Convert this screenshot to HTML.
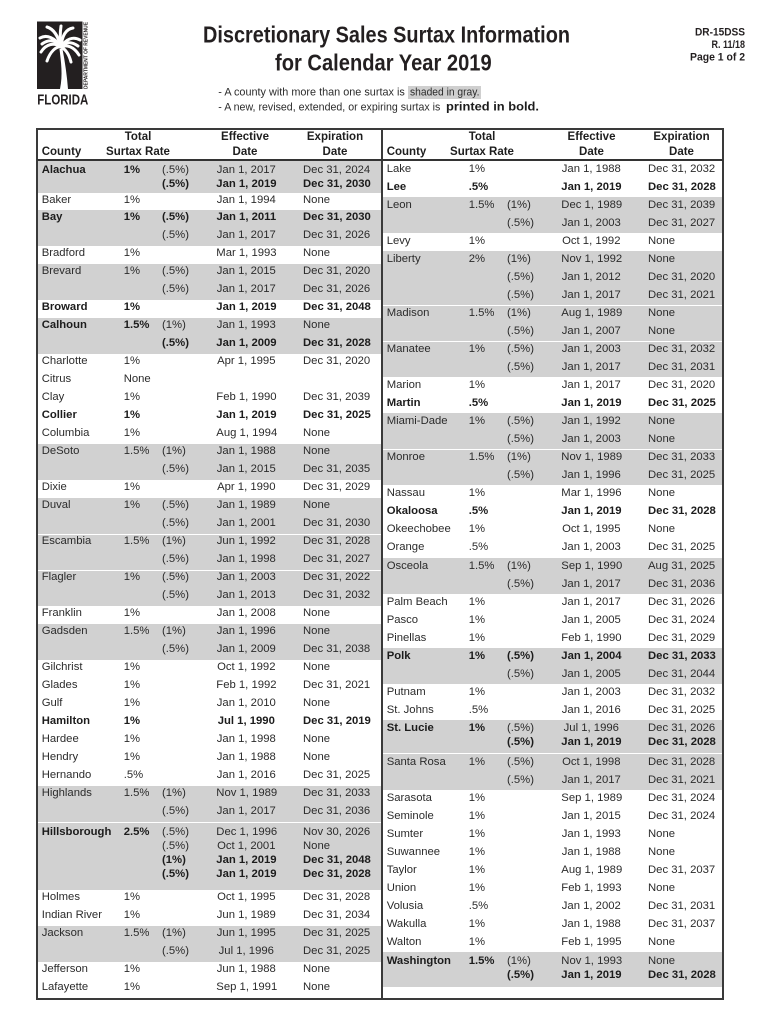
<!DOCTYPE html>
<html><head><meta charset="utf-8">
<style>
*{box-sizing:border-box}
body{margin:0;width:770px;height:1024px;position:relative;background:#fff;font-family:"Liberation Sans",Arial,sans-serif;color:#2b2b2b;overflow:hidden}
svg.top{position:absolute;left:0;top:0}
.frame{position:absolute;left:36px;top:128px;width:688px;height:872px;border:2px solid #3a3a3a}
.div{position:absolute;left:381px;top:129px;width:2px;height:870px;background:#3a3a3a}
.hline{position:absolute;left:37px;top:159px;width:686px;height:1.5px;background:#333}
.h{position:absolute;font-weight:bold;font-size:11.5px;line-height:14px;color:#1e1e1e;white-space:nowrap}
.hc{width:100px;text-align:center}
.col{position:absolute;top:160.5px;font-size:11.3px}
.L{left:38px;width:343px}
.R{left:383px;width:339px}
.L .r{height:17.99px;line-height:17.99px}
.R .r{height:18.05px;line-height:18.05px}
.r{position:relative}
.r span,.c span{position:absolute;top:-1px;white-space:nowrap}
.c{position:relative;height:14px;line-height:14px}
.c span{top:0}
.hb .c{height:14.2px;line-height:14.2px}
.a{left:3.7px}.b{left:85.7px}.s{left:124px}.e{left:178.3px;width:60px;text-align:center}.x{left:265px}
.g{background:#d1d1d1}
.sep{box-shadow:inset 0 1px 0 #fff}
.k{font-weight:bold;color:#1c1c1c}
</style></head><body>

<svg class="top" width="770" height="125" viewBox="0 0 770 125" xmlns="http://www.w3.org/2000/svg">
  <rect x="37" y="21.5" width="45.5" height="67.5" fill="#231f20"/>
  <g fill="none" stroke="#fff" stroke-width="3" stroke-linecap="round">
    <path d="M61,47 C55,38 47,34 40,38"/>
    <path d="M61,47 C54,42 46,44 41,52"/>
    <path d="M61,47 C56,46 50,52 47,61"/>
    <path d="M61,47 C58,36 54,29 47,27"/>
    <path d="M61,47 C62,36 66,29 73,28"/>
    <path d="M61,47 C66,39 73,36 80,40"/>
    <path d="M61,47 C67,44 74,47 79,55"/>
    <path d="M61,47 C65,49 69,54 71,62"/>
    <path d="M61,47 C60,40 60,33 61,26"/>
    <path d="M61,47 C57,41 50,38 42,44"/>
    <path d="M61,47 C65,42 71,41 78,46"/>
  </g>
  <path d="M59.5,49 C61,62 63,75 60,89 L68,89 C67,76 65,62 62.5,49 Z" fill="#fff"/>
  <text transform="translate(87.6,89) rotate(-90)" font-family="Liberation Sans, Arial, sans-serif" font-size="5.2" font-weight="bold" fill="#231f20" textLength="67" lengthAdjust="spacingAndGlyphs">DEPARTMENT OF REVENUE</text>
  <text x="37.3" y="104.5" font-family="Liberation Sans, Arial, sans-serif" font-size="15" font-weight="bold" fill="#231f20" textLength="51" lengthAdjust="spacingAndGlyphs">FLORIDA</text>

  <text x="203" y="42.3" font-family="Liberation Sans, Arial, sans-serif" font-size="23.5" font-weight="bold" fill="#231f20" textLength="367" lengthAdjust="spacingAndGlyphs">Discretionary Sales Surtax Information</text>
  <text x="275" y="70.5" font-family="Liberation Sans, Arial, sans-serif" font-size="23.5" font-weight="bold" fill="#231f20" textLength="216.7" lengthAdjust="spacingAndGlyphs">for Calendar Year 2019</text>

  <text x="695" y="35.5" font-family="Liberation Sans, Arial, sans-serif" font-size="11" font-weight="bold" fill="#231f20" textLength="50" lengthAdjust="spacingAndGlyphs">DR-15DSS</text>
  <text x="711.5" y="48" font-family="Liberation Sans, Arial, sans-serif" font-size="11" font-weight="bold" fill="#231f20" textLength="33.5" lengthAdjust="spacingAndGlyphs">R. 11/18</text>
  <text x="690" y="60.5" font-family="Liberation Sans, Arial, sans-serif" font-size="11" font-weight="bold" fill="#231f20" textLength="55" lengthAdjust="spacingAndGlyphs">Page 1 of 2</text>

  <rect x="408" y="86" width="73" height="13" fill="#cfcfcf"/>
  <text x="218.3" y="95.7" font-family="Liberation Sans, Arial, sans-serif" font-size="11" fill="#2b2b2b" textLength="186.5" lengthAdjust="spacingAndGlyphs">- A county with more than one surtax is</text>
  <text x="410" y="95.7" font-family="Liberation Sans, Arial, sans-serif" font-size="11" fill="#2b2b2b" textLength="69.5" lengthAdjust="spacingAndGlyphs">shaded in gray.</text>
  <text x="218.3" y="110.7" font-family="Liberation Sans, Arial, sans-serif" font-size="11" fill="#2b2b2b" textLength="222" lengthAdjust="spacingAndGlyphs">- A new, revised, extended, or expiring surtax is</text>
  <text x="446" y="110.7" font-family="Liberation Sans, Arial, sans-serif" font-size="11.8" font-weight="bold" fill="#1c1c1c" textLength="93" lengthAdjust="spacingAndGlyphs">printed in bold.</text>
</svg>

<div class="frame"></div>
<div class="div"></div>
<div class="hline"></div>

<!-- headers left -->
<div class="h" style="left:41.7px;top:145.3px">County</div>
<div class="h hc" style="left:88px;top:130.3px">Total</div>
<div class="h hc" style="left:88px;top:145.3px">Surtax Rate</div>
<div class="h hc" style="left:195px;top:130.3px">Effective</div>
<div class="h hc" style="left:195px;top:145.3px">Date</div>
<div class="h hc" style="left:285px;top:130.3px">Expiration</div>
<div class="h hc" style="left:285px;top:145.3px">Date</div>
<!-- headers right -->
<div class="h" style="left:386.7px;top:145.3px">County</div>
<div class="h hc" style="left:432px;top:130.3px">Total</div>
<div class="h hc" style="left:432px;top:145.3px">Surtax Rate</div>
<div class="h hc" style="left:541.5px;top:130.3px">Effective</div>
<div class="h hc" style="left:541.5px;top:145.3px">Date</div>
<div class="h hc" style="left:631.5px;top:130.3px">Expiration</div>
<div class="h hc" style="left:631.5px;top:145.3px">Date</div>

<div class="col L">
  <div class="g" style="padding:2px 0">
    <div class="c"><span class="a k">Alachua</span><span class="b k">1%</span><span class="s">(.5%)</span><span class="e">Jan 1, 2017</span><span class="x">Dec 31, 2024</span></div>
    <div class="c"><span class="s k">(.5%)</span><span class="e k">Jan 1, 2019</span><span class="x k">Dec 31, 2030</span></div>
  </div>
  <div class="r"><span class="a">Baker</span><span class="b">1%</span><span class="e">Jan 1, 1994</span><span class="x">None</span></div>
  <div class="g">
    <div class="r"><span class="a k">Bay</span><span class="b k">1%</span><span class="s k">(.5%)</span><span class="e k">Jan 1, 2011</span><span class="x k">Dec 31, 2030</span></div>
    <div class="r"><span class="s">(.5%)</span><span class="e">Jan 1, 2017</span><span class="x">Dec 31, 2026</span></div>
  </div>
  <div class="r"><span class="a">Bradford</span><span class="b">1%</span><span class="e">Mar 1, 1993</span><span class="x">None</span></div>
  <div class="g">
    <div class="r"><span class="a">Brevard</span><span class="b">1%</span><span class="s">(.5%)</span><span class="e">Jan 1, 2015</span><span class="x">Dec 31, 2020</span></div>
    <div class="r"><span class="s">(.5%)</span><span class="e">Jan 1, 2017</span><span class="x">Dec 31, 2026</span></div>
  </div>
  <div class="r"><span class="a k">Broward</span><span class="b k">1%</span><span class="e k">Jan 1, 2019</span><span class="x k">Dec 31, 2048</span></div>
  <div class="g">
    <div class="r"><span class="a k">Calhoun</span><span class="b k">1.5%</span><span class="s">(1%)</span><span class="e">Jan 1, 1993</span><span class="x">None</span></div>
    <div class="r"><span class="s k">(.5%)</span><span class="e k">Jan 1, 2009</span><span class="x k">Dec 31, 2028</span></div>
  </div>
  <div class="r"><span class="a">Charlotte</span><span class="b">1%</span><span class="e">Apr 1, 1995</span><span class="x">Dec 31, 2020</span></div>
  <div class="r"><span class="a">Citrus</span><span class="b">None</span></div>
  <div class="r"><span class="a">Clay</span><span class="b">1%</span><span class="e">Feb 1, 1990</span><span class="x">Dec 31, 2039</span></div>
  <div class="r"><span class="a k">Collier</span><span class="b k">1%</span><span class="e k">Jan 1, 2019</span><span class="x k">Dec 31, 2025</span></div>
  <div class="r"><span class="a">Columbia</span><span class="b">1%</span><span class="e">Aug 1, 1994</span><span class="x">None</span></div>
  <div class="g">
    <div class="r"><span class="a">DeSoto</span><span class="b">1.5%</span><span class="s">(1%)</span><span class="e">Jan 1, 1988</span><span class="x">None</span></div>
    <div class="r"><span class="s">(.5%)</span><span class="e">Jan 1, 2015</span><span class="x">Dec 31, 2035</span></div>
  </div>
  <div class="r"><span class="a">Dixie</span><span class="b">1%</span><span class="e">Apr 1, 1990</span><span class="x">Dec 31, 2029</span></div>
  <div class="g">
    <div class="r"><span class="a">Duval</span><span class="b">1%</span><span class="s">(.5%)</span><span class="e">Jan 1, 1989</span><span class="x">None</span></div>
    <div class="r"><span class="s">(.5%)</span><span class="e">Jan 1, 2001</span><span class="x">Dec 31, 2030</span></div>
  </div>
  <div class="g sep">
    <div class="r"><span class="a">Escambia</span><span class="b">1.5%</span><span class="s">(1%)</span><span class="e">Jun 1, 1992</span><span class="x">Dec 31, 2028</span></div>
    <div class="r"><span class="s">(.5%)</span><span class="e">Jan 1, 1998</span><span class="x">Dec 31, 2027</span></div>
  </div>
  <div class="g sep">
    <div class="r"><span class="a">Flagler</span><span class="b">1%</span><span class="s">(.5%)</span><span class="e">Jan 1, 2003</span><span class="x">Dec 31, 2022</span></div>
    <div class="r"><span class="s">(.5%)</span><span class="e">Jan 1, 2013</span><span class="x">Dec 31, 2032</span></div>
  </div>
  <div class="r"><span class="a">Franklin</span><span class="b">1%</span><span class="e">Jan 1, 2008</span><span class="x">None</span></div>
  <div class="g">
    <div class="r"><span class="a">Gadsden</span><span class="b">1.5%</span><span class="s">(1%)</span><span class="e">Jan 1, 1996</span><span class="x">None</span></div>
    <div class="r"><span class="s">(.5%)</span><span class="e">Jan 1, 2009</span><span class="x">Dec 31, 2038</span></div>
  </div>
  <div class="r"><span class="a">Gilchrist</span><span class="b">1%</span><span class="e">Oct 1, 1992</span><span class="x">None</span></div>
  <div class="r"><span class="a">Glades</span><span class="b">1%</span><span class="e">Feb 1, 1992</span><span class="x">Dec 31, 2021</span></div>
  <div class="r"><span class="a">Gulf</span><span class="b">1%</span><span class="e">Jan 1, 2010</span><span class="x">None</span></div>
  <div class="r"><span class="a k">Hamilton</span><span class="b k">1%</span><span class="e k">Jul 1, 1990</span><span class="x k">Dec 31, 2019</span></div>
  <div class="r"><span class="a">Hardee</span><span class="b">1%</span><span class="e">Jan 1, 1998</span><span class="x">None</span></div>
  <div class="r"><span class="a">Hendry</span><span class="b">1%</span><span class="e">Jan 1, 1988</span><span class="x">None</span></div>
  <div class="r"><span class="a">Hernando</span><span class="b">.5%</span><span class="e">Jan 1, 2016</span><span class="x">Dec 31, 2025</span></div>
  <div class="g">
    <div class="r"><span class="a">Highlands</span><span class="b">1.5%</span><span class="s">(1%)</span><span class="e">Nov 1, 1989</span><span class="x">Dec 31, 2033</span></div>
    <div class="r"><span class="s">(.5%)</span><span class="e">Jan 1, 2017</span><span class="x">Dec 31, 2036</span></div>
  </div>
  <div class="g sep hb" style="padding:2.6px 0 8.6px 0">
    <div class="c"><span class="a k">Hillsborough</span><span class="b k">2.5%</span><span class="s">(.5%)</span><span class="e">Dec 1, 1996</span><span class="x">Nov 30, 2026</span></div>
    <div class="c"><span class="s">(.5%)</span><span class="e">Oct 1, 2001</span><span class="x">None</span></div>
    <div class="c"><span class="s k">(1%)</span><span class="e k">Jan 1, 2019</span><span class="x k">Dec 31, 2048</span></div>
    <div class="c"><span class="s k">(.5%)</span><span class="e k">Jan 1, 2019</span><span class="x k">Dec 31, 2028</span></div>
  </div>
  <div class="r"><span class="a">Holmes</span><span class="b">1%</span><span class="e">Oct 1, 1995</span><span class="x">Dec 31, 2028</span></div>
  <div class="r"><span class="a">Indian River</span><span class="b">1%</span><span class="e">Jun 1, 1989</span><span class="x">Dec 31, 2034</span></div>
  <div class="g">
    <div class="r"><span class="a">Jackson</span><span class="b">1.5%</span><span class="s">(1%)</span><span class="e">Jun 1, 1995</span><span class="x">Dec 31, 2025</span></div>
    <div class="r"><span class="s">(.5%)</span><span class="e">Jul 1, 1996</span><span class="x">Dec 31, 2025</span></div>
  </div>
  <div class="r"><span class="a">Jefferson</span><span class="b">1%</span><span class="e">Jun 1, 1988</span><span class="x">None</span></div>
  <div class="r"><span class="a">Lafayette</span><span class="b">1%</span><span class="e">Sep 1, 1991</span><span class="x">None</span></div>
</div>

<div class="col R">
  <div class="r"><span class="a">Lake</span><span class="b">1%</span><span class="e">Jan 1, 1988</span><span class="x">Dec 31, 2032</span></div>
  <div class="r"><span class="a k">Lee</span><span class="b k">.5%</span><span class="e k">Jan 1, 2019</span><span class="x k">Dec 31, 2028</span></div>
  <div class="g">
    <div class="r"><span class="a">Leon</span><span class="b">1.5%</span><span class="s">(1%)</span><span class="e">Dec 1, 1989</span><span class="x">Dec 31, 2039</span></div>
    <div class="r"><span class="s">(.5%)</span><span class="e">Jan 1, 2003</span><span class="x">Dec 31, 2027</span></div>
  </div>
  <div class="r"><span class="a">Levy</span><span class="b">1%</span><span class="e">Oct 1, 1992</span><span class="x">None</span></div>
  <div class="g">
    <div class="r"><span class="a">Liberty</span><span class="b">2%</span><span class="s">(1%)</span><span class="e">Nov 1, 1992</span><span class="x">None</span></div>
    <div class="r"><span class="s">(.5%)</span><span class="e">Jan 1, 2012</span><span class="x">Dec 31, 2020</span></div>
    <div class="r"><span class="s">(.5%)</span><span class="e">Jan 1, 2017</span><span class="x">Dec 31, 2021</span></div>
  </div>
  <div class="g sep">
    <div class="r"><span class="a">Madison</span><span class="b">1.5%</span><span class="s">(1%)</span><span class="e">Aug 1, 1989</span><span class="x">None</span></div>
    <div class="r"><span class="s">(.5%)</span><span class="e">Jan 1, 2007</span><span class="x">None</span></div>
  </div>
  <div class="g sep">
    <div class="r"><span class="a">Manatee</span><span class="b">1%</span><span class="s">(.5%)</span><span class="e">Jan 1, 2003</span><span class="x">Dec 31, 2032</span></div>
    <div class="r"><span class="s">(.5%)</span><span class="e">Jan 1, 2017</span><span class="x">Dec 31, 2031</span></div>
  </div>
  <div class="r"><span class="a">Marion</span><span class="b">1%</span><span class="e">Jan 1, 2017</span><span class="x">Dec 31, 2020</span></div>
  <div class="r"><span class="a k">Martin</span><span class="b k">.5%</span><span class="e k">Jan 1, 2019</span><span class="x k">Dec 31, 2025</span></div>
  <div class="g">
    <div class="r"><span class="a">Miami-Dade</span><span class="b">1%</span><span class="s">(.5%)</span><span class="e">Jan 1, 1992</span><span class="x">None</span></div>
    <div class="r"><span class="s">(.5%)</span><span class="e">Jan 1, 2003</span><span class="x">None</span></div>
  </div>
  <div class="g sep">
    <div class="r"><span class="a">Monroe</span><span class="b">1.5%</span><span class="s">(1%)</span><span class="e">Nov 1, 1989</span><span class="x">Dec 31, 2033</span></div>
    <div class="r"><span class="s">(.5%)</span><span class="e">Jan 1, 1996</span><span class="x">Dec 31, 2025</span></div>
  </div>
  <div class="r"><span class="a">Nassau</span><span class="b">1%</span><span class="e">Mar 1, 1996</span><span class="x">None</span></div>
  <div class="r"><span class="a k">Okaloosa</span><span class="b k">.5%</span><span class="e k">Jan 1, 2019</span><span class="x k">Dec 31, 2028</span></div>
  <div class="r"><span class="a">Okeechobee</span><span class="b">1%</span><span class="e">Oct 1, 1995</span><span class="x">None</span></div>
  <div class="r"><span class="a">Orange</span><span class="b">.5%</span><span class="e">Jan 1, 2003</span><span class="x">Dec 31, 2025</span></div>
  <div class="g">
    <div class="r"><span class="a">Osceola</span><span class="b">1.5%</span><span class="s">(1%)</span><span class="e">Sep 1, 1990</span><span class="x">Aug 31, 2025</span></div>
    <div class="r"><span class="s">(.5%)</span><span class="e">Jan 1, 2017</span><span class="x">Dec 31, 2036</span></div>
  </div>
  <div class="r"><span class="a">Palm Beach</span><span class="b">1%</span><span class="e">Jan 1, 2017</span><span class="x">Dec 31, 2026</span></div>
  <div class="r"><span class="a">Pasco</span><span class="b">1%</span><span class="e">Jan 1, 2005</span><span class="x">Dec 31, 2024</span></div>
  <div class="r"><span class="a">Pinellas</span><span class="b">1%</span><span class="e">Feb 1, 1990</span><span class="x">Dec 31, 2029</span></div>
  <div class="g">
    <div class="r"><span class="a k">Polk</span><span class="b k">1%</span><span class="s k">(.5%)</span><span class="e k">Jan 1, 2004</span><span class="x k">Dec 31, 2033</span></div>
    <div class="r"><span class="s">(.5%)</span><span class="e">Jan 1, 2005</span><span class="x">Dec 31, 2044</span></div>
  </div>
  <div class="r"><span class="a">Putnam</span><span class="b">1%</span><span class="e">Jan 1, 2003</span><span class="x">Dec 31, 2032</span></div>
  <div class="r"><span class="a">St. Johns</span><span class="b">.5%</span><span class="e">Jan 1, 2016</span><span class="x">Dec 31, 2025</span></div>
  <div class="g" style="padding:1px 0 4px 0">
    <div class="c"><span class="a k">St. Lucie</span><span class="b k">1%</span><span class="s">(.5%)</span><span class="e">Jul 1, 1996</span><span class="x">Dec 31, 2026</span></div>
    <div class="c"><span class="s k">(.5%)</span><span class="e k">Jan 1, 2019</span><span class="x k">Dec 31, 2028</span></div>
  </div>
  <div class="g" style="border-top:1.5px solid #fff">
    <div class="r"><span class="a">Santa Rosa</span><span class="b">1%</span><span class="s">(.5%)</span><span class="e">Oct 1, 1998</span><span class="x">Dec 31, 2028</span></div>
    <div class="r"><span class="s">(.5%)</span><span class="e">Jan 1, 2017</span><span class="x">Dec 31, 2021</span></div>
  </div>
  <div class="r"><span class="a">Sarasota</span><span class="b">1%</span><span class="e">Sep 1, 1989</span><span class="x">Dec 31, 2024</span></div>
  <div class="r"><span class="a">Seminole</span><span class="b">1%</span><span class="e">Jan 1, 2015</span><span class="x">Dec 31, 2024</span></div>
  <div class="r"><span class="a">Sumter</span><span class="b">1%</span><span class="e">Jan 1, 1993</span><span class="x">None</span></div>
  <div class="r"><span class="a">Suwannee</span><span class="b">1%</span><span class="e">Jan 1, 1988</span><span class="x">None</span></div>
  <div class="r"><span class="a">Taylor</span><span class="b">1%</span><span class="e">Aug 1, 1989</span><span class="x">Dec 31, 2037</span></div>
  <div class="r"><span class="a">Union</span><span class="b">1%</span><span class="e">Feb 1, 1993</span><span class="x">None</span></div>
  <div class="r"><span class="a">Volusia</span><span class="b">.5%</span><span class="e">Jan 1, 2002</span><span class="x">Dec 31, 2031</span></div>
  <div class="r"><span class="a">Wakulla</span><span class="b">1%</span><span class="e">Jan 1, 1988</span><span class="x">Dec 31, 2037</span></div>
  <div class="r"><span class="a">Walton</span><span class="b">1%</span><span class="e">Feb 1, 1995</span><span class="x">None</span></div>
  <div class="g" style="padding:1.4px 0 5.6px 0">
    <div class="c"><span class="a k">Washington</span><span class="b k">1.5%</span><span class="s">(1%)</span><span class="e">Nov 1, 1993</span><span class="x">None</span></div>
    <div class="c"><span class="s k">(.5%)</span><span class="e k">Jan 1, 2019</span><span class="x k">Dec 31, 2028</span></div>
  </div>
</div>

</body></html>
